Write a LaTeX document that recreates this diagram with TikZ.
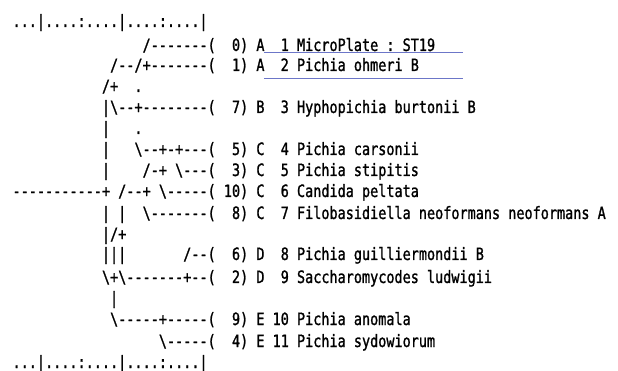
\documentclass[tikz,border=0pt]{standalone}
\usepackage{fontspec}
\setmonofont[FakeStretch=0.794,FakeBold=1.2]{DejaVu Sans Mono}
\newcommand\bs{\textbackslash}
\newcommand\lineat[4]{\node[txt] (#1) at ({12.6+8.125*#2},#3) {#4};}
\begin{document}
\begin{tikzpicture}[x=1pt,y=-1pt,
  txt/.style={font=\ttfamily\fontsize{17}{17}\selectfont, inner sep=0pt, outer sep=0pt, anchor=base west},
  uline/.style={draw=uline, line width=1.5pt}]
\definecolor{uline}{RGB}{108,118,200}
\useasboundingbox (0,0) rectangle (618,371);
\lineat{r0}{0}{27}{...|....:....|....:....|}
\lineat{l1}{16}{51}{/-------(~~0)~A~~1~MicroPlate~:~ST19}
\lineat{l2}{12}{71}{/--/+-------(~~1)~A~~2~Pichia~ohmeri~B}
\lineat{l3}{11}{92}{/+~~.}
\lineat{l4}{11}{113}{|\bs--+--------(~~7)~B~~3~Hyphopichia~burtonii~B}
\lineat{l5}{11}{134}{|~~~.}
\lineat{l6}{11}{155}{|~~~\bs--+-+---(~~5)~C~~4~Pichia~carsonii}
\lineat{l7}{11}{176}{|~~~~/-+~\bs---(~~3)~C~~5~Pichia~stipitis}
\lineat{l8}{0}{197}{-----------+~/--+~\bs-----(~10)~C~~6~Candida~peltata}
\lineat{l9}{11}{219}{|~|~~\bs-------(~~8)~C~~7~Filobasidiella~neoformans~neoformans~A}
\lineat{l10}{11}{240}{|/+}
\lineat{l11}{11}{260}{|||~~~~~~~/--(~~6)~D~~8~Pichia~guilliermondii~B}
\lineat{l12}{11}{283}{\bs+\bs-------+--(~~2)~D~~9~Saccharomycodes~ludwigii}
\lineat{l13}{12}{304}{|}
\lineat{l14}{12}{325}{\bs-----+-----(~~9)~E~10~Pichia~anomala}
\lineat{l15}{18}{347}{\bs-----(~~4)~E~11~Pichia~sydowiorum}
\lineat{r1}{0}{368}{...|....:....|....:....|}
\coordinate (u1a) at (264,52.7); \coordinate (u1b) at (463,52.7);
\coordinate (u2a) at (264,78.3); \coordinate (u2b) at (463,78.3);
\draw[uline] (u1a) -- (u1b);
\draw[uline] (u2a) -- (u2b);
\end{tikzpicture}
\end{document}
